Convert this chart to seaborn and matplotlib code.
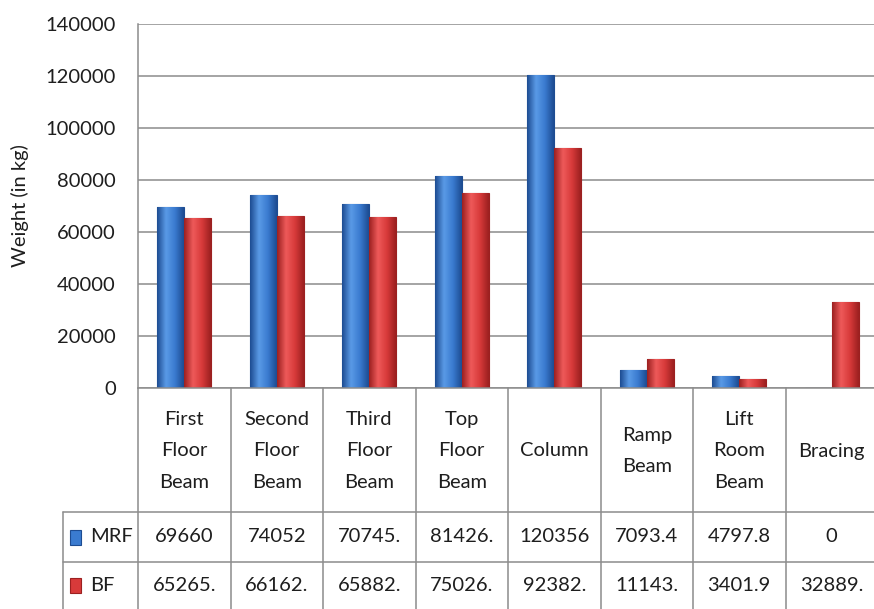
import matplotlib
matplotlib.use("Agg")
import matplotlib.pyplot as plt
import matplotlib.colors as mcolors
import numpy as np
import pandas as pd
import seaborn as sns

# chart data
parts = ["First Floor Beam", "Second Floor Beam", "Third Floor Beam", "Top Floor Beam",
         "Column", "Ramp Beam", "Lift Room Beam", "Bracing"]
header_labels = ["First\nFloor\nBeam", "Second\nFloor\nBeam", "Third\nFloor\nBeam", "Top\nFloor\nBeam",
                 "Column", "Ramp\nBeam", "Lift\nRoom\nBeam", "Bracing"]
mrf = [69660, 74052, 70745.5, 81426.5, 120356, 7093.4, 4797.8, 0]
bf = [65265.5, 66162.5, 65882.5, 75026.5, 92382.5, 11143.5, 3401.9, 32889.5]
mrf_text = ["69660", "74052", "70745.", "81426.", "120356", "7093.4", "4797.8", "0"]
bf_text = ["65265.", "66162.", "65882.", "75026.", "92382.", "11143.", "3401.9", "32889."]
series = ["MRF", "BF"]

df = pd.DataFrame({
    "part": parts * 2,
    "frame": ["MRF"] * len(parts) + ["BF"] * len(parts),
    "weight": mrf + bf,
})

colors = {"MRF": "#3a7bd0", "BF": "#d83a3a"}
dark = {"MRF": "#1d4c92", "BF": "#9c2020"}
light = {"MRF": "#5a9ae6", "BF": "#ee5a5a"}
grid_col = "#8c8c8c"
text_col = "#1e1e1e"

sns.set_style("white")
plt.rcParams["font.family"] = ["Lato", "DejaVu Sans"]

W, H = 874, 609
fig = plt.figure(figsize=(W / 100, H / 100), dpi=100)

# plot area in pixels
x0, y_top, y_bot = 138, 24, 388
cat_px = 92.5
xmax = -0.5 + (W - x0) / cat_px

ax = fig.add_axes([x0 / W, (H - y_bot) / H, (W - x0) / W, (y_bot - y_top) / H])
sns.barplot(data=df, x="part", y="weight", hue="frame", hue_order=series,
            palette=colors, width=0.58, ax=ax, legend=False, saturation=1)

# shade the bars with a horizontal gradient
cmaps = {s: mcolors.LinearSegmentedColormap.from_list(s, [dark[s], light[s], colors[s], dark[s]])
         for s in series}
grad = np.linspace(0, 1, 64).reshape(1, -1)
n = len(parts)
for i, p in enumerate(ax.patches[:2 * n]):
    s = series[i // n]
    p.set_edgecolor(dark[s])
    p.set_linewidth(0.8)
    h = p.get_height()
    if h <= 0:
        continue
    im = ax.imshow(grad, cmap=cmaps[s], aspect="auto", interpolation="bicubic",
                   extent=[p.get_x(), p.get_x() + p.get_width(), 0, h], zorder=p.get_zorder() + 0.1)
    im.set_clip_path(p)

ax.set_xlim(-0.5, xmax)
ax.set_ylim(0, 140000)
ax.set_yticks(np.arange(0, 140001, 20000))
ax.set_xticks([])
ax.set_xlabel("")
ax.grid(axis="y", color=grid_col, linewidth=1.1)
ax.set_axisbelow(True)
for side in ["right", "top"]:
    ax.spines[side].set_visible(False)
for side in ["left", "bottom"]:
    ax.spines[side].set_color(grid_col)
    ax.spines[side].set_linewidth(1.1)
ax.tick_params(axis="y", length=0, pad=16, labelsize=14.5, labelcolor=text_col)
ax.set_ylabel("Weight (in kg)", fontsize=14.5, color=text_col, labelpad=12)

# data table below the plot
tax = fig.add_axes([0, 0, 1, (H - y_bot) / H])
tax.set_xlim(-0.5 - x0 / cat_px, xmax)
tax.set_ylim(H - y_bot, 0)
tax.axis("off")

rows = [(0, 124), (124, 174), (174, H - y_bot)]
legend_left = -0.5 - (x0 - 63) / cat_px
lw = 1.1
for i in range(n + 1):
    tax.plot([i - 0.5, i - 0.5], [0, H - y_bot], color=grid_col, lw=lw, clip_on=False)
tax.plot([legend_left, legend_left], [rows[1][0], H - y_bot], color=grid_col, lw=lw)
for y in [rows[1][0], rows[2][0]]:
    tax.plot([legend_left, xmax], [y, y], color=grid_col, lw=lw)

for i, lab in enumerate(header_labels):
    tax.text(i, sum(rows[0]) / 2 + 1, lab, ha="center", va="center", fontsize=14.5,
             linespacing=2.05, color=text_col)
for r, (vals, s) in enumerate([(mrf_text, "MRF"), (bf_text, "BF")]):
    yc = sum(rows[r + 1]) / 2
    for i, v in enumerate(vals):
        tax.text(i, yc, v, ha="center", va="center", fontsize=14.5, color=text_col)
    kx = legend_left + 7 / cat_px
    tax.add_patch(plt.Rectangle((kx, yc - 7.5), 11 / cat_px, 15, facecolor=colors[s],
                                edgecolor=dark[s], lw=0.8))
    tax.text(legend_left + 27 / cat_px, yc, s, ha="left", va="center", fontsize=14.5, color=text_col)

fig.savefig("out.png", dpi=100)
